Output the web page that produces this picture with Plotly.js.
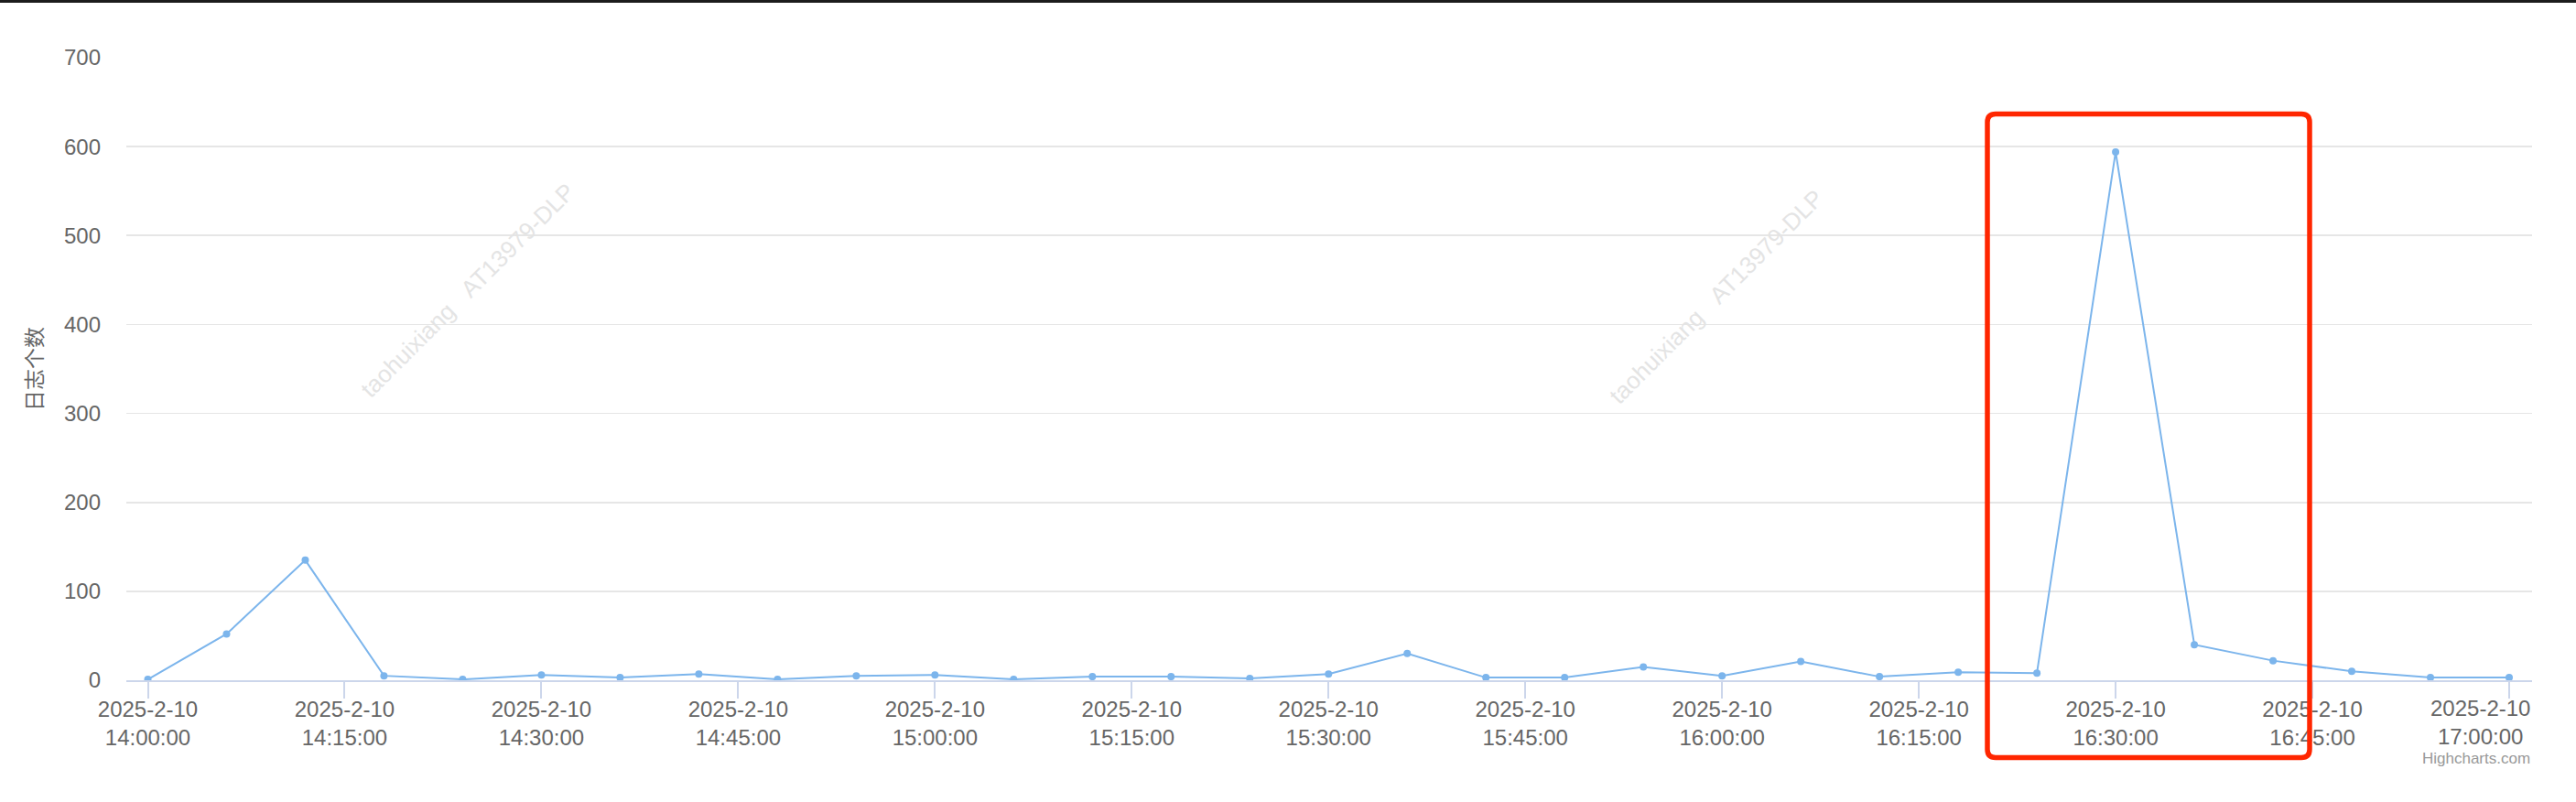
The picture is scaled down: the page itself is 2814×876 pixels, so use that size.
<!DOCTYPE html>
<html>
<head>
<meta charset="utf-8">
<script src="https://cdn.plot.ly/plotly-3.0.1.min.js"></script>
<style>
  html, body { margin: 0; padding: 0; background: #ffffff; }
  #wrap { position: relative; width: 2814px; height: 876px; }
  #chart { width: 2814px; height: 876px; }
  #topbar { position: absolute; left: 0; top: 0; width: 2814px; height: 3px; background: #1c1c1c; z-index: 10; }
</style>
</head>
<body>
<div id="wrap">
  <div id="topbar"></div>
  <div id="chart"></div>
</div>
<script>
// ---- data ----
const dateStr = '2025-02-10';
const dateLabel = '2025-2-10';
const times = ['14:00','14:06','14:12','14:18','14:24','14:30','14:36','14:42','14:48','14:54',
               '15:00','15:06','15:12','15:18','15:24','15:30','15:36','15:42','15:48','15:54',
               '16:00','16:06','16:12','16:18','16:24','16:30','16:36','16:42','16:48','16:54','17:00'];
const counts = [1, 52, 135, 5, 1, 6, 3, 7, 1, 5,
                6, 1, 4, 4, 2, 7, 30, 3, 3, 15,
                5, 21, 4, 9, 8, 594, 40, 22, 10, 3, 3];
const tickTimes = ['14:00:00','14:15:00','14:30:00','14:45:00','15:00:00','15:15:00','15:30:00',
                   '15:45:00','16:00:00','16:15:00','16:30:00','16:45:00','17:00:00'];
const yTickVals = [0, 100, 200, 300, 400, 500, 600, 700];
const yTitle = '日志个数';
const watermarkText = 'taohuixiang\u00a0\u00a0\u00a0AT13979-DLP';
const creditText = 'Highcharts.com';

// ---- layout constants (pixels) ----
const W = 2814, H = 876;
const mL = 138, mR = 48, mT = 63, mB = 133;
const pw = W - mL - mR, ph = H - mT - mB;
const px2x = p => (p - mL) / pw;
const px2y = p => (H - mB - p) / ph;

const xs = times.map(t => dateStr + ' ' + t + ':00');
const tickVals = tickTimes.map(t => dateStr + ' ' + t);
const lastIdx = tickTimes.length - 1;
const tickText = tickTimes.map((t, i) => i === lastIdx ? '' : dateLabel + '<br>' + t);

const font = 'Liberation Sans, Arial, sans-serif';
const labelColor = '#666666';

// rounded highlight box (center line of stroke), px
const bx0 = px2x(2171), bx1 = px2x(2523), byT = px2y(124.5), byB = px2y(827.5);
const rx = 9 / pw, ry = 9 / ph;
const boxPath = `M ${bx0 + rx},${byT} L ${bx1 - rx},${byT} Q ${bx1},${byT} ${bx1},${byT - ry} ` +
  `L ${bx1},${byB + ry} Q ${bx1},${byB} ${bx1 - rx},${byB} ` +
  `L ${bx0 + rx},${byB} Q ${bx0},${byB} ${bx0},${byB + ry} ` +
  `L ${bx0},${byT - ry} Q ${bx0},${byT} ${bx0 + rx},${byT} Z`;

const trace = {
  type: 'scatter',
  mode: 'lines+markers',
  x: xs,
  y: counts,
  line: { color: '#7cb5ec', width: 2 },
  marker: { color: '#7cb5ec', size: 8, line: { width: 0 } },
  hoverinfo: 'skip',
  showlegend: false
};

const layout = {
  width: W, height: H,
  margin: { l: mL, r: mR, t: mT, b: mB, pad: 0 },
  paper_bgcolor: '#ffffff',
  plot_bgcolor: '#ffffff',
  showlegend: false,
  hovermode: false,
  font: { family: font, size: 24, color: labelColor },
  xaxis: {
    type: 'date',
    range: ['2025-02-10 13:58:21.6', '2025-02-10 17:01:44.7'],
    tickmode: 'array',
    tickvals: tickVals,
    ticktext: tickText,
    ticks: 'outside',
    ticklen: 18,
    tickwidth: 2,
    tickcolor: '#ccd6eb',
    ticklabelstandoff: -9,
    showline: true,
    linecolor: '#ccd6eb',
    linewidth: 2,
    showgrid: false,
    zeroline: false,
    tickfont: { family: font, size: 24, color: labelColor },
    fixedrange: true
  },
  yaxis: {
    range: [0, 700],
    tickmode: 'array',
    tickvals: yTickVals,
    ticks: '',
    ticklabelstandoff: 27,
    showgrid: true,
    gridcolor: '#e6e6e6',
    gridwidth: 1.8,
    zeroline: false,
    showline: false,
    tickfont: { family: font, size: 24, color: labelColor },
    fixedrange: true
  },
  shapes: [
    {
      type: 'path', xref: 'paper', yref: 'paper', layer: 'above',
      path: boxPath,
      line: { color: '#ff2600', width: 5.5 },
      fillcolor: 'rgba(0,0,0,0)'
    }
  ],
  annotations: [
    {
      text: yTitle, xref: 'paper', yref: 'paper',
      x: px2x(36), y: 0.5, xanchor: 'center', yanchor: 'middle',
      textangle: -90, showarrow: false,
      font: { family: 'Noto Sans CJK SC, sans-serif', size: 23, color: labelColor }
    },
    {
      text: dateLabel + '<br>' + tickTimes[lastIdx], xref: 'paper', yref: 'paper',
      x: 1, y: px2y(758), xanchor: 'right', yanchor: 'top', align: 'center',
      showarrow: false,
      font: { family: font, size: 24, color: labelColor }
    },
    {
      text: creditText, xref: 'paper', yref: 'paper',
      x: 1, y: px2y(828), xanchor: 'right', yanchor: 'middle',
      showarrow: false,
      font: { family: font, size: 17, color: '#999999' }
    },
    {
      text: watermarkText, xref: 'paper', yref: 'paper',
      x: px2x(511), y: px2y(317), xanchor: 'center', yanchor: 'middle',
      textangle: -45, showarrow: false,
      font: { family: font, size: 26, color: '#e4e4e4' }
    },
    {
      text: watermarkText, xref: 'paper', yref: 'paper',
      x: px2x(1875), y: px2y(324), xanchor: 'center', yanchor: 'middle',
      textangle: -45, showarrow: false,
      font: { family: font, size: 26, color: '#e4e4e4' }
    }
  ]
};

Plotly.newPlot('chart', [trace], layout, { displayModeBar: false, staticPlot: true, responsive: false });
</script>
</body>
</html>
